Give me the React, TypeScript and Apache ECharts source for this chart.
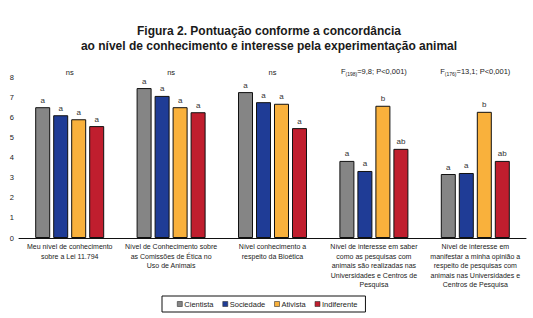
import React, { useEffect, useRef } from "react";
import * as echarts from "echarts";

const categories = [
  "Meu nível de conhecimento\nsobre a Lei 11.794",
  "Nível de Conhecimento sobre\nas Comissões de Ética no\nUso de Animais",
  "Nível conhecimento a\nrespeito da Bioética",
  "Nível de interesse em saber\ncomo as pesquisas com\nanimais são realizadas nas\nUniversidades e Centros de\nPesquisa",
  "Nível de interesse em\nmanifestar a minha opinião a\nrespeito de pesquisas com\nanimais nas Universidades e\nCentros de Pesquisa",
];

const annotations = [
  "ns",
  "ns",
  "ns",
  "F{sub|(198)}=9,8; P<0,001)",
  "F{sub|(176)}=13,1; P<0,001)",
];

const seriesNames = ["Cientista", "Sociedade", "Ativista", "Indiferente"];
const cientista = [6.5, 7.45, 7.25, 3.83, 3.18];
const sociedade = [6.1, 7.06, 6.75, 3.33, 3.23];
const ativista = [5.9, 6.5, 6.67, 6.57, 6.27];
const indiferente = [5.56, 6.25, 5.46, 4.43, 3.83];
const seriesValues = [cientista, sociedade, ativista, indiferente];

const letters = [
  ["a", "a", "a", "a", "a"],
  ["a", "a", "a", "a", "a"],
  ["a", "a", "a", "b", "b"],
  ["a", "a", "a", "ab", "ab"],
];

const colors = ["#858585", "#1f3c96", "#f9b13c", "#c01e2e"];
const yTicks = { min: 0, max: 8, interval: 1 };

const FONT = "'Liberation Sans', Arial, sans-serif";

export default function App() {
  const ref = useRef<HTMLDivElement>(null);
  useEffect(() => {
    if (!ref.current) return;
    const chart = echarts.init(ref.current, null, { renderer: "svg" });
    chart.setOption({
      animation: false,
      backgroundColor: "#ffffff",
      textStyle: { fontFamily: FONT },
      title: {
        text:
          "Figura 2. Pontuação conforme a concordância\nao nível de conhecimento e interesse pela experimentação animal",
        left: 264,
        textAlign: "center",
        top: 18,
        textStyle: {
          fontFamily: FONT,
          fontSize: 12,
          fontWeight: "bold",
          color: "#1a1a1a",
          lineHeight: 15,
        },
      },
      legend: {
        data: seriesNames,
        left: 162,
        top: 296,
        itemWidth: 5,
        itemHeight: 5,
        itemGap: 9,
        padding: [4, 8, 4, 15],
        borderColor: "#111",
        borderWidth: 1,
        icon: "rect",
        itemStyle: { borderColor: "#333", borderWidth: 0.6 },
        textStyle: { fontFamily: FONT, fontSize: 7.5, color: "#222", padding: [0, 0, 0, -3] },
      },
      grid: { left: 19, right: 7, top: 77, bottom: 80, containLabel: false },
      xAxis: [
        {
          type: "category",
          data: categories,
          axisLine: { lineStyle: { color: "#111", width: 1 } },
          axisTick: { show: false },
          axisLabel: {
            interval: 0,
            fontFamily: FONT,
            fontSize: 7,
            lineHeight: 9.5,
            color: "#222",
            margin: 4,
          },
        },
        {
          type: "category",
          position: "top",
          data: annotations,
          axisLine: { show: false },
          axisTick: { show: false },
          axisLabel: {
            interval: 0,
            fontFamily: FONT,
            fontSize: 7.5,
            color: "#222",
            margin: 1,
            rich: {
              sub: { fontSize: 5, fontFamily: FONT, color: "#222", verticalAlign: "bottom", padding: [4, 0, 0, 0] },
            },
          },
        },
      ],
      yAxis: {
        type: "value",
        min: yTicks.min,
        max: yTicks.max,
        interval: yTicks.interval,
        axisLine: { show: false },
        axisTick: { show: false },
        splitLine: { show: false },
        axisLabel: { fontFamily: FONT, fontSize: 7.5, color: "#222", margin: 5 },
      },
      series: seriesValues.map((vals, i) => ({
        name: seriesNames[i],
        type: "bar",
        data: vals,
        barWidth: 15,
        barGap: "20%",
        itemStyle: { color: colors[i], borderColor: "#111", borderWidth: 1 },
        label: {
          show: true,
          position: "top",
          distance: 3,
          fontFamily: FONT,
          fontSize: 8,
          color: "#333",
          formatter: (p: any) => letters[i][p.dataIndex],
        },
      })),
    });
    return () => chart.dispose();
  }, []);
  return (
    <div
      ref={ref}
      style={{ position: "fixed", left: 0, top: 0, width: 533, height: 318 }}
    />
  );
}
